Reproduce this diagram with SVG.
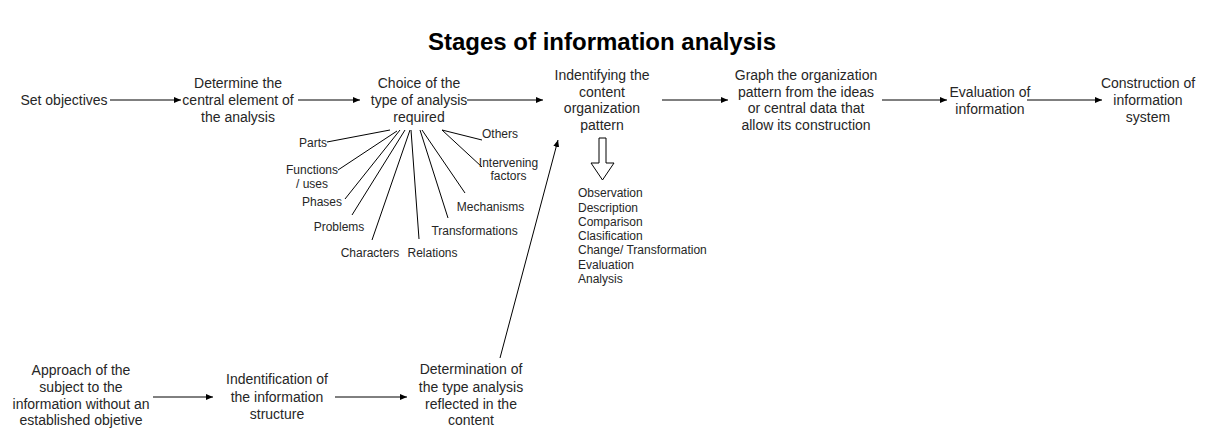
<svg xmlns="http://www.w3.org/2000/svg" width="1207" height="428" viewBox="0 0 1207 428">
<defs>
<marker id="ah" markerWidth="8" markerHeight="8" refX="7" refY="4" orient="auto" markerUnits="userSpaceOnUse">
<path d="M0,1 L7,4 L0,7 Z" fill="#000"/>
</marker>
<style>
text{font-family:"Liberation Sans",Arial,sans-serif;fill:#262626}
.n{font-size:14px;text-anchor:middle}
.b{font-size:12px;text-anchor:middle}
.l{font-size:12px}
.t{font-size:24px;font-weight:bold;text-anchor:middle;fill:#000}
.c line,.c path{stroke:#000;stroke-width:1;fill:none}
.a{marker-end:url(#ah)}
</style>
</defs>
<rect width="1207" height="428" fill="#fff"/>
<text class="t" x="602" y="50">Stages of information analysis</text>

<g class="c" id="connectors">
<line class="a" x1="110" y1="100" x2="181" y2="100"/>
<line class="a" x1="298" y1="100" x2="360" y2="100"/>
<line class="a" x1="467" y1="100" x2="543" y2="100"/>
<line class="a" x1="662" y1="100" x2="728" y2="100"/>
<line class="a" x1="882" y1="100" x2="947" y2="100"/>
<line class="a" x1="1027" y1="100" x2="1102" y2="100"/>
<line class="a" x1="153" y1="397" x2="213" y2="397"/>
<line class="a" x1="335" y1="397" x2="407" y2="397"/>
<line class="a" x1="500" y1="358" x2="558" y2="140"/>
<line x1="327" y1="142" x2="390" y2="130"/>
<line x1="338" y1="170" x2="397" y2="131"/>
<line x1="345" y1="199" x2="400" y2="130"/>
<line x1="352" y1="215" x2="405" y2="130"/>
<line x1="372" y1="240" x2="410" y2="130"/>
<line x1="419" y1="239" x2="411" y2="130"/>
<line x1="448" y1="218" x2="420" y2="130"/>
<line x1="465" y1="193" x2="422" y2="130"/>
<line x1="482" y1="167" x2="442" y2="130"/>
<line x1="482" y1="140" x2="442" y2="130"/>
<path d="M599,138 L606,138 L606,163 L614,163 L602.5,180 L591,163 L599,163 Z" stroke="#444"/>
</g>

<g id="n-set"><text class="n" x="64" y="105">Set objectives</text></g>
<g id="n-determine"><text class="n" x="238" y="88">Determine the</text><text class="n" x="238" y="105">central element of</text><text class="n" x="238" y="121.5">the analysis</text></g>
<g id="n-choice"><text class="n" x="419" y="88">Choice of the</text><text class="n" x="419" y="104.5">type of analysis</text><text class="n" x="419" y="121.5">required</text></g>
<g id="n-identifying"><text class="n" x="602" y="79.5">Indentifying the</text><text class="n" x="602" y="96.5">content</text><text class="n" x="602" y="113">organization</text><text class="n" x="602" y="130">pattern</text></g>
<g id="n-graph"><text class="n" x="806" y="79.5">Graph the organization</text><text class="n" x="806" y="96.5">pattern from the ideas</text><text class="n" x="806" y="113">or central data that</text><text class="n" x="806" y="130">allow its construction</text></g>
<g id="n-evaluation"><text class="n" x="990" y="97">Evaluation of</text><text class="n" x="990" y="113.5">information</text></g>
<g id="n-construction"><text class="n" x="1148" y="88">Construction of</text><text class="n" x="1148" y="105">information</text><text class="n" x="1148" y="122">system</text></g>

<g id="b-parts"><text class="b" x="313" y="147">Parts</text></g>
<g id="b-functions"><text class="b" x="312" y="173.5">Functions</text><text class="b" x="312" y="187.5">/ uses</text></g>
<g id="b-phases"><text class="b" x="322" y="205.5">Phases</text></g>
<g id="b-problems"><text class="b" x="339" y="231">Problems</text></g>
<g id="b-characters"><text class="b" x="370" y="256.5">Characters</text></g>
<g id="b-relations"><text class="b" x="432.5" y="256.5">Relations</text></g>
<g id="b-transformations"><text class="b" x="474.5" y="234.5">Transformations</text></g>
<g id="b-mechanisms"><text class="b" x="490.5" y="210.5">Mechanisms</text></g>
<g id="b-intervening"><text class="b" x="508.5" y="166.5">Intervening</text><text class="b" x="508.5" y="179.5">factors</text></g>
<g id="b-others"><text class="b" x="500" y="138">Others</text></g>

<g id="n-list">
<text class="l" x="578" y="197">Observation</text>
<text class="l" x="578" y="211.5">Description</text>
<text class="l" x="578" y="225.5">Comparison</text>
<text class="l" x="578" y="240">Clasification</text>
<text class="l" x="578" y="254">Change/ Transformation</text>
<text class="l" x="578" y="268.5">Evaluation</text>
<text class="l" x="578" y="283">Analysis</text>
</g>

<g id="n-approach"><text class="n" x="81" y="374.5">Approach of the</text><text class="n" x="81" y="391.5">subject to the</text><text class="n" x="81" y="408.5">information without an</text><text class="n" x="81" y="425">established objetive</text></g>
<g id="n-indentification"><text class="n" x="277" y="384">Indentification of</text><text class="n" x="277" y="402">the information</text><text class="n" x="277" y="419">structure</text></g>
<g id="n-determination"><text class="n" x="471" y="374">Determination of</text><text class="n" x="471" y="391.5">the type analysis</text><text class="n" x="471" y="408.5">reflected in the</text><text class="n" x="471" y="425">content</text></g>
</svg>
